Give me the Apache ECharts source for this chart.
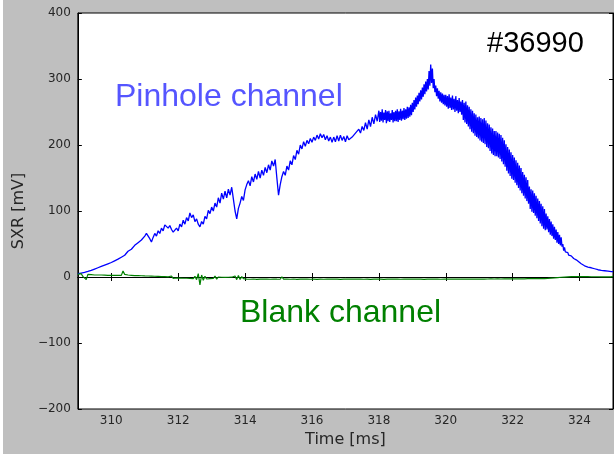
<!DOCTYPE html>
<html>
<head>
<meta charset="utf-8">
<script src="https://cdn.jsdelivr.net/npm/echarts@6/dist/echarts.min.js"></script>
<style>
  html, body { margin: 0; padding: 0; background: #ffffff; }
  #chart { position: absolute; left: 3px; top: 0; width: 611px; height: 454px; }
</style>
</head>
<body>
<div id="chart"></div>
<script>
// Soft X-ray signals, shot #36990.
// The pinhole trace is stored in three stretches with their own sample period:
// the rise (every 0.05 ms), the fast-oscillating peak (every 0.025 ms) and the tail.

// Pinhole channel [mV], 309.00 - 317.95 ms, every 0.05 ms
const pinholeRiseStartMs = 309;
const pinholeRisePeriodMs = 0.05;
const pinholeRiseMv = [
  5,5.5,6,6.6,7,7.8,8.4,9.2,10,11,12,13,14,15,16,17.2,18,19.2,20,21.2,
  22,23.5,24.5,26,27,29,30,32,33,36,39,38,42,44,48,46,52,50,56,58,
  62,66,68,58,53,60,66,62,70,66,74,70,79,82,74,78,72,68,66,74,
  70,80,76,86,80,90,85,97,90,94,84,88,80,76,84,80,92,88,101,96,
  106,100,112,106,120,112,127,118,130,120,133,124,136,118,100,88,104,112,122,116,
  132,140,146,138,152,144,156,148,160,150,162,154,166,158,170,162,176,168,178,150,
  124,140,152,160,154,168,162,176,170,184,178,192,186,200,194,205,198,207,202,210,
  204,212,207,215,209,217,211,216,208,214,206,212,204,212,205,214,206,215,207,213,
  205,214,208,211,212,214,218,216,224,218,228,222,234,224,238,228,242,232,246,236
];

// Pinhole channel [mV], 318.000 - 323.975 ms, every 0.025 ms
const pinholePeakStartMs = 318;
const pinholePeakPeriodMs = 0.025;
const pinholePeakMv = [
  252,235,250,237,254,234,249,238,253,233,251,236,252,235,248,238,253,234,250,236,
  252,236,254,235,251,238,255,237,252,239,256,238,254,240,258,241,257,243,261,245,
  264,250,268,254,272,258,275,262,279,266,283,269,287,273,292,277,296,281,300,284,
  312,290,322,294,316,286,300,280,290,274,286,270,282,266,280,264,278,262,276,260,
  276,258,274,255,277,256,272,253,275,254,270,250,274,252,268,248,271,250,266,246,
  268,238,264,234,266,232,260,228,258,224,254,220,252,218,248,214,246,212,242,210,
  243,207,241,205,239,203,241,201,237,197,233,195,231,191,227,187,225,185,221,183,
  221,183,219,181,217,179,215,175,211,171,207,167,201,161,197,157,193,153,189,149,
  185,147,181,143,177,139,173,135,169,131,165,127,159,123,155,119,151,115,147,111,
  137,103,133,99,131,97,127,93,123,89,119,85,115,81,111,77,107,73,103,71,
  96,72,92,68,88,64,84,62,80,58,76,56,72,52,68,50,64,48,60,46,
  50,40,45,38,41,35,37,33,35,32,32,30,30,28,28,27,26,25,24,23
];

// Pinhole channel [mV], 324.00 - 325.00 ms, every 0.05 ms
const pinholeTailStartMs = 324;
const pinholeTailPeriodMs = 0.05;
const pinholeTailMv = [
  22,20,19,17,16,15,15,14,13,12.5,12,11,11,10,10,9.5,9,9,8.5,8,
  8
];

// Blank channel [mV], 309.00 - 325.00 ms, every 0.05 ms
const blankStartMs = 309;
const blankPeriodMs = 0.05;
const blankMv = [
  4,2,5,1,3,-4,4,2,3.5,2.5,3,2,3,2.5,3,2,2.8,2,2.6,1.8,
  2.5,1.4,2.6,1.3,2.4,1.2,2.5,9,4,1.6,3,1.2,2.6,0.8,2.2,0.6,2.1,0.3,1.9,0.4,
  1.6,0,1.5,-0.2,1.3,-0.5,1.1,-0.8,0.9,-0.9,0.6,-1.1,0.5,-1.3,0.3,-1.3,1.5,-2.2,0.5,-1.5,
  0.2,-1.7,0.1,-1.9,-0.1,-1.9,0.2,-2.2,-0.2,-2.4,1,-4,5,-12,3,-5,1,-3,0,-2.4,
  -0.3,-2.3,1.5,-3.2,0,-2.2,-0.4,-2.6,-0.6,-2.6,-0.4,-2.8,-0.3,-3,1.5,-4,2.5,-3.8,0.5,-2.6,
  -0.6,-3.2,-1,-3.4,-0.8,-3,-1.2,-3.5,-0.7,-3.1,-1,-3.3,-0.5,-3.2,-1.1,-3.4,-0.8,-3,-1,-3.3,
  -0.7,-3.4,0.4,-3.1,-1,-3.2,-1.2,-3.4,-0.8,-3,-1.1,-3.5,-0.9,-3.1,-1.3,-3.3,-0.8,-3.1,-1.2,-3.4,
  -0.9,-3.2,-1.1,-3.5,-0.8,-3.1,-1.3,-3.4,-0.9,-3.1,-1.1,-3.3,-0.9,-3.2,-0.8,-3.1,-1.2,-3.5,-1,-3.2,
  -1.1,-3.3,-0.8,-3.1,-1.3,-3.3,-0.9,-3.1,-0.8,-3.2,-1.1,-3.4,-1,-3.1,-1.3,-3.5,-0.9,-3.2,-1.1,-3.3,
  -1,-3.2,-1.1,-3.5,-0.8,-3.1,-1.2,-3.3,-1,-3.2,-0.8,-3.1,-1.3,-3.4,-0.9,-3.1,-1.1,-3.3,-0.8,-3.2,
  -1.1,-3.3,-1,-3.1,-0.8,-3.2,-1.2,-3.5,-1,-3.1,-1.1,-3.3,-0.8,-3.2,-1,-3.1,-1.3,-3.4,-1,-3.2,
  -1,-3.2,-0.8,-3.1,-1.1,-3.3,-1,-3.1,-0.8,-3.2,-1.1,-3.3,-1,-3.1,-0.8,-3.2,-1,-3.1,-0.9,-3.1,
  -0.8,-3,-0.7,-3.1,-1,-3,-0.8,-2.9,-0.9,-3,-0.8,-2.9,-0.6,-3,-0.9,-2.9,-0.8,-2.9,-0.6,-2.8,
  -0.6,-2.8,-0.8,-2.9,-0.5,-2.7,-0.6,-2.8,-0.5,-2.6,-0.6,-2.6,-0.4,-2.5,-0.5,-2.5,-0.4,-2.4,-0.5,-2.4,
  -0.6,-2.2,-0.2,-1.8,0.2,-1.4,0.6,-0.9,1,-0.4,1.4,-0.1,1.8,0.2,2,0.5,2.2,0.6,2.2,0.7,
  2.1,0.6,2.1,0.5,2,0.5,2,0.4,1.9,0.4,1.8,0.4,1.8,0.3,1.8,0.3,1.7,0.3,1.7,0.3,
  1
];

// Axis ranges and tick labels
const timeRangeMs = [309, 325];
const timeTicksMs = [310, 312, 314, 316, 318, 320, 322, 324];
const sxrRangeMv = [-200, 400];
const sxrTickStepMv = 100;

const shotLabel = '#36990';
const pinholeLabel = 'Pinhole channel';
const blankLabel = 'Blank channel';

// [time, value] pairs for a stretch sampled at a fixed period
function toPairs(startMs, periodMs, values) {
  return values.map((v, i) => [+(startMs + i * periodMs).toFixed(4), v]);
}

const pinholeData = []
  .concat(toPairs(pinholeRiseStartMs, pinholeRisePeriodMs, pinholeRiseMv))
  .concat(toPairs(pinholePeakStartMs, pinholePeakPeriodMs, pinholePeakMv))
  .concat(toPairs(pinholeTailStartMs, pinholeTailPeriodMs, pinholeTailMv));
const blankData = toPairs(blankStartMs, blankPeriodMs, blankMv);

const tickFont = { fontFamily: 'DejaVu Sans', fontSize: 12, color: '#262626' };
const chart = echarts.init(document.getElementById('chart'), null, { renderer: 'canvas' });

const boxAxisLine = { show: true, lineStyle: { color: '#000', width: 1 } };
const innerTick = { show: true, inside: true, length: 4, lineStyle: { color: '#000', width: 1 } };

chart.setOption({
  animation: false,
  backgroundColor: '#bfbfbf',
  grid: {
    left: 72, right: 1, top: 13, bottom: 45,
    show: true, backgroundColor: '#ffffff', borderColor: '#000', borderWidth: 1
  },
  xAxis: [
    {
      type: 'value', min: timeRangeMs[0], max: timeRangeMs[1], position: 'bottom',
      name: 'Time [ms]', nameLocation: 'middle', nameGap: 23,
      nameTextStyle: { fontFamily: 'DejaVu Sans', fontSize: 16, color: '#262626' },
      axisLine: boxAxisLine,
      axisTick: Object.assign({ customValues: timeTicksMs }, innerTick),
      axisLabel: Object.assign({ customValues: timeTicksMs, margin: 6 }, tickFont),
      splitLine: { show: false }
    },
    {
      type: 'value', min: timeRangeMs[0], max: timeRangeMs[1], position: 'top',
      axisLine: boxAxisLine,
      axisTick: Object.assign({ customValues: timeTicksMs }, innerTick),
      axisLabel: { show: false },
      splitLine: { show: false }
    }
  ],
  yAxis: [
    {
      type: 'value', min: sxrRangeMv[0], max: sxrRangeMv[1], interval: sxrTickStepMv,
      position: 'left',
      name: 'SXR [mV]', nameLocation: 'middle', nameGap: 49,
      nameTextStyle: { fontFamily: 'DejaVu Sans', fontSize: 16, color: '#262626' },
      axisLine: boxAxisLine,
      axisTick: innerTick,
      axisLabel: Object.assign({ margin: 7, formatter: v => String(v).replace('-', '\u2212') }, tickFont),
      splitLine: { show: false }
    },
    {
      type: 'value', min: sxrRangeMv[0], max: sxrRangeMv[1], interval: sxrTickStepMv,
      position: 'right',
      axisLine: boxAxisLine,
      axisTick: innerTick,
      axisLabel: { show: false },
      splitLine: { show: false }
    }
  ],
  series: [
    {
      name: pinholeLabel, type: 'line', xAxisIndex: 0, yAxisIndex: 0,
      data: pinholeData, showSymbol: false, symbol: 'none', sampling: null,
      lineStyle: { color: '#0000ff', width: 1.3 }, z: 2
    },
    {
      name: blankLabel, type: 'line', xAxisIndex: 0, yAxisIndex: 0,
      data: blankData, showSymbol: false, symbol: 'none', sampling: null,
      lineStyle: { color: '#008000', width: 1.2 }, z: 3
    }
  ],
  graphic: [
    {
      type: 'text', left: 112, top: 81, z: 10,
      style: { text: pinholeLabel, fill: '#5555ff', font: '32px "Liberation Sans", Arial, sans-serif' }
    },
    {
      type: 'text', left: 237, top: 297, z: 10,
      style: { text: blankLabel, fill: '#008000', font: '32px "Liberation Sans", Arial, sans-serif' }
    },
    {
      type: 'text', left: 484, top: 29, z: 10,
      style: { text: shotLabel, fill: '#000000', font: '29px "Liberation Sans", Arial, sans-serif' }
    }
  ]
});
</script>
</body>
</html>
